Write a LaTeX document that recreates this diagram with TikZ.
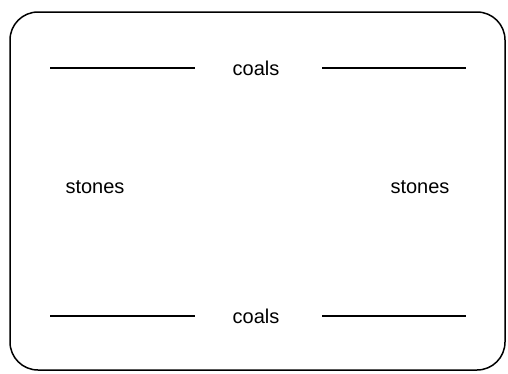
\documentclass[tikz,border=0pt]{standalone}
\usepackage{fontspec}
\setmainfont{Liberation Sans}
\begin{document}
\begin{tikzpicture}[x=1pt,y=-1pt,
  lbl/.style={font=\fontsize{20}{24}\selectfont, inner sep=0pt},
  rule/.style={line width=1.4pt}]
\useasboundingbox (0,0) rectangle (508,373);
\draw[line width=1.5pt, rounded corners=28pt] (10,12) rectangle (505,370);
\node[lbl] (c1) at (256,68) {coals};
\node[lbl] (c2) at (256,316) {coals};
\node[lbl] (s1) at (95,187) {stones};
\node[lbl] (s2) at (420,187) {stones};
\coordinate (a1) at (50,68); \coordinate (a2) at (195,68);
\coordinate (a3) at (322,68); \coordinate (a4) at (466,68);
\coordinate (b1) at (50,316); \coordinate (b2) at (195,316);
\coordinate (b3) at (322,316); \coordinate (b4) at (466,316);
\draw[rule] (a1) -- (a2);
\draw[rule] (a3) -- (a4);
\draw[rule] (b1) -- (b2);
\draw[rule] (b3) -- (b4);
\end{tikzpicture}
\end{document}
